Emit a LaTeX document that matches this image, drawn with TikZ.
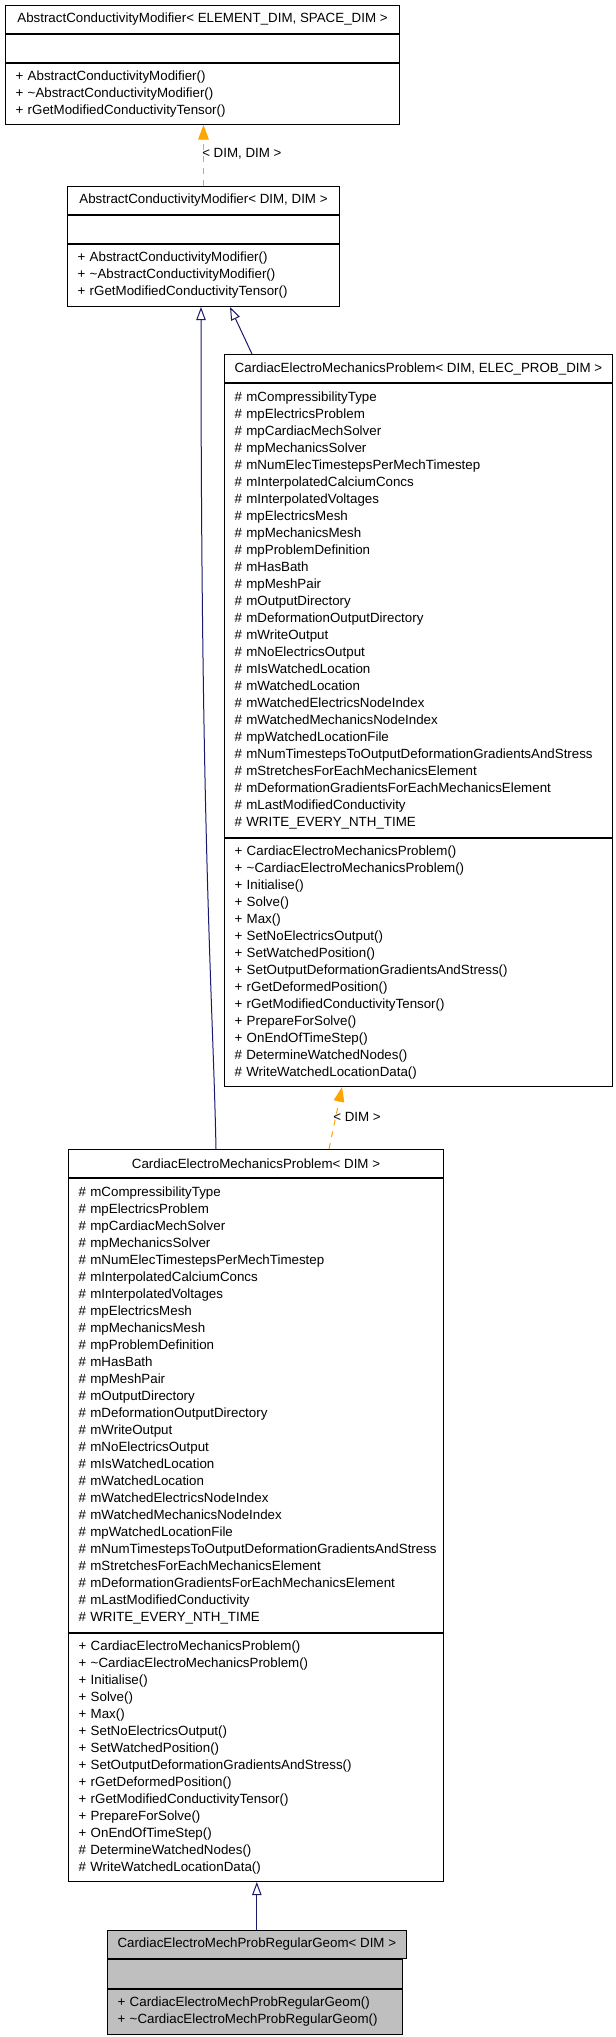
\documentclass[tikz,border=0pt]{standalone}
\usepackage{fontspec}
\setmainfont{Liberation Sans}
\usetikzlibrary{arrows.meta}
\definecolor{edgeblue}{HTML}{191970}
\definecolor{edgeorange}{HTML}{FFA500}
\definecolor{leafgray}{HTML}{BFBFBF}
\hyphenpenalty=10000
\exhyphenpenalty=10000
\begin{document}
\begin{tikzpicture}[x=0.75pt,y=-0.75pt]
    \tikzstyle{every node}+=[font=\fontsize{10pt}{12.75pt}\selectfont]
    \tikzstyle{cls}=[draw=black, line width=0.75pt, anchor=north west, inner xsep=7.5pt, inner ysep=0pt]
    \tikzstyle{clstitle}=[cls, align=center, minimum height=21pt]
    \tikzstyle{clslist}=[cls, align=left]
    \tikzstyle{inherit}=[draw=edgeblue, line width=0.75pt, -{Triangle[open, length=9.75pt, width=7pt]}]
    \tikzstyle{tmpl}=[draw=edgeorange, line width=0.75pt, dash pattern=on 4.5pt off 4.5pt, -{Triangle[length=11pt, width=8pt, fill=edgeorange]}]
    \useasboundingbox (0,0) rectangle (616,2037);
    \node[clstitle, minimum width=295.5pt] (acm-t) at (5,5) {AbstractConductivityModifier< ELEMENT\_DIM, SPACE\_DIM >};
    \node[cls, minimum width=295.5pt, minimum height=21pt] (acm-a) at (acm-t.south west) {};
    \node[clslist, text width=280.5pt, minimum height=45.75pt] (acm-m) at (acm-a.south west) {+~AbstractConductivityModifier()\\+~\textasciitilde AbstractConductivityModifier()\\+~rGetModifiedConductivityTensor()};
    \node[clstitle, minimum width=204pt] (acmd-t) at (67,186) {AbstractConductivityModifier< DIM, DIM >};
    \node[cls, minimum width=204pt, minimum height=21pt] (acmd-a) at (acmd-t.south west) {};
    \node[clslist, text width=189pt, minimum height=46.5pt] (acmd-m) at (acmd-a.south west) {+~AbstractConductivityModifier()\\+~\textasciitilde AbstractConductivityModifier()\\+~rGetModifiedConductivityTensor()};
    \node[clstitle, minimum width=291pt] (cemp-t) at (224,354) {CardiacElectroMechanicsProblem< DIM, ELEC\_PROB\_DIM >};
    \node[clslist, text width=276pt, minimum height=340.5pt] (cemp-a) at (cemp-t.south west) {\#~mCompressibilityType\\\#~mpElectricsProblem\\\#~mpCardiacMechSolver\\\#~mpMechanicsSolver\\\#~mNumElecTimestepsPerMechTimestep\\\#~mInterpolatedCalciumConcs\\\#~mInterpolatedVoltages\\\#~mpElectricsMesh\\\#~mpMechanicsMesh\\\#~mpProblemDefinition\\\#~mHasBath\\\#~mpMeshPair\\\#~mOutputDirectory\\\#~mDeformationOutputDirectory\\\#~mWriteOutput\\\#~mNoElectricsOutput\\\#~mIsWatchedLocation\\\#~mWatchedLocation\\\#~mWatchedElectricsNodeIndex\\\#~mWatchedMechanicsNodeIndex\\\#~mpWatchedLocationFile\\\#~mNumTimestepsToOutputDeformationGradientsAndStress\\\#~mStretchesForEachMechanicsElement\\\#~mDeformationGradientsForEachMechanicsElement\\\#~mLastModifiedConductivity\\\#~WRITE\_EVERY\_NTH\_TIME};
    \node[clslist, text width=276pt, minimum height=186pt] (cemp-m) at (cemp-a.south west) {+~CardiacElectroMechanicsProblem()\\+~\textasciitilde CardiacElectroMechanicsProblem()\\+~Initialise()\\+~Solve()\\+~Max()\\+~SetNoElectricsOutput()\\+~SetWatchedPosition()\\+~SetOutputDeformationGradientsAndStress()\\+~rGetDeformedPosition()\\+~rGetModifiedConductivityTensor()\\+~PrepareForSolve()\\+~OnEndOfTimeStep()\\\#~DetermineWatchedNodes()\\\#~WriteWatchedLocationData()};
    \node[clstitle, minimum width=281.25pt] (cem-t) at (68,1149) {CardiacElectroMechanicsProblem< DIM >};
    \node[clslist, text width=266.25pt, minimum height=340.5pt] (cem-a) at (cem-t.south west) {\#~mCompressibilityType\\\#~mpElectricsProblem\\\#~mpCardiacMechSolver\\\#~mpMechanicsSolver\\\#~mNumElecTimestepsPerMechTimestep\\\#~mInterpolatedCalciumConcs\\\#~mInterpolatedVoltages\\\#~mpElectricsMesh\\\#~mpMechanicsMesh\\\#~mpProblemDefinition\\\#~mHasBath\\\#~mpMeshPair\\\#~mOutputDirectory\\\#~mDeformationOutputDirectory\\\#~mWriteOutput\\\#~mNoElectricsOutput\\\#~mIsWatchedLocation\\\#~mWatchedLocation\\\#~mWatchedElectricsNodeIndex\\\#~mWatchedMechanicsNodeIndex\\\#~mpWatchedLocationFile\\\#~mNumTimestepsToOutputDeformationGradientsAndStress\\\#~mStretchesForEachMechanicsElement\\\#~mDeformationGradientsForEachMechanicsElement\\\#~mLastModifiedConductivity\\\#~WRITE\_EVERY\_NTH\_TIME};
    \node[clslist, text width=266.25pt, minimum height=186pt] (cem-m) at (cem-a.south west) {+~CardiacElectroMechanicsProblem()\\+~\textasciitilde CardiacElectroMechanicsProblem()\\+~Initialise()\\+~Solve()\\+~Max()\\+~SetNoElectricsOutput()\\+~SetWatchedPosition()\\+~SetOutputDeformationGradientsAndStress()\\+~rGetDeformedPosition()\\+~rGetModifiedConductivityTensor()\\+~PrepareForSolve()\\+~OnEndOfTimeStep()\\\#~DetermineWatchedNodes()\\\#~WriteWatchedLocationData()};
    \node[clstitle, fill=leafgray, minimum width=221.25pt] (cemrg-t) at (107,1930) {CardiacElectroMechProbRegularGeom< DIM >};
    \node[cls, fill=leafgray, minimum width=221.25pt, minimum height=21.75pt] (cemrg-a) at (cemrg-t.south west) {};
    \node[clslist, fill=leafgray, text width=206.25pt, minimum height=33.75pt] (cemrg-m) at (cemrg-a.south west) {+~CardiacElectroMechProbRegularGeom()\\+~\textasciitilde CardiacElectroMechProbRegularGeom()};
    \draw[tmpl] (acmd-t.north) -- (acmd-t.north |- acm-m.south);
    \node[anchor=west, inner sep=0pt] (lbl-dimdim) at (202,154) {< DIM, DIM >};
    \draw[inherit] ([xshift=21pt]cemp-t.north west) -- ([xshift=122.25pt]acmd-m.south west);
    \draw[inherit] ([xshift=111pt]cem-t.north west) .. controls (213,1000) and (201,850) .. ([xshift=100.5pt]acmd-m.south west);
    \draw[tmpl] ([xshift=195.75pt]cem-t.north west) -- ([xshift=88.5pt]cemp-m.south west);
    \node[anchor=west, inner sep=0pt] (lbl-dim) at (333,1117) {< DIM >};
    \draw[inherit] (cemrg-t.north) -- (cemrg-t.north |- cem-m.south);
\end{tikzpicture}
\end{document}
